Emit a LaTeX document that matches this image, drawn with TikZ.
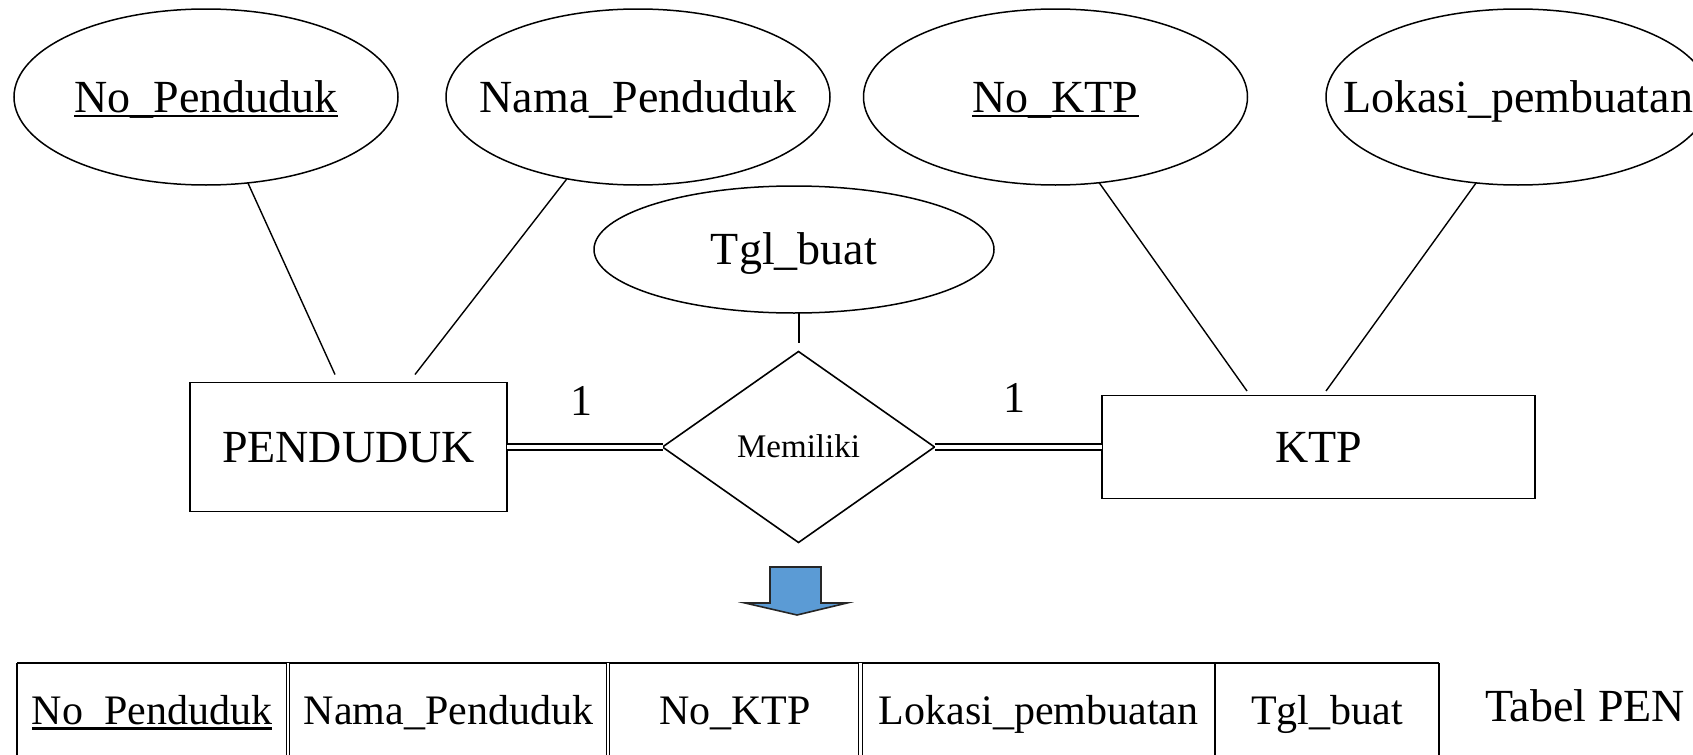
\documentclass[tikz,border=0pt]{standalone}
\usepackage{fontspec}
\setmainfont{Liberation Serif}
\usetikzlibrary{shapes.geometric}
% underline for key attributes, a little heavier than \underline
\newcommand\keyul[1]{\setbox0\hbox{#1}\rlap{\rule[-0.11em]{\wd0}{0.05em}}\box0}
\definecolor{arrowblue}{RGB}{91,155,213}
\begin{document}
\begin{tikzpicture}[x=0.5pt,y=-0.5pt,
  every node/.style={inner sep=0pt, outer sep=0pt, text depth=0pt},
  attrtext/.style={font=\fontsize{23}{26}\selectfont, text height=15.2pt},
  % the ellipse keeps its own size; its name is set as a centred label
  attrib/.style={ellipse, draw, line width=0.75pt, minimum width=192pt, minimum height=88pt,
                 label={[attrtext]center:#1}},
  entity/.style={rectangle, draw, line width=0.9pt,
                 font=\fontsize{23}{26}\selectfont, text height=15.2pt},
  relation/.style={diamond, draw, line width=0.8pt, minimum width=136pt, minimum height=95.5pt,
                 font=\fontsize{16.5}{19}\selectfont, text height=10.9pt},
  card/.style={font=\fontsize{22}{26}\selectfont, text height=14.8pt},
  cell/.style={font=\fontsize{21}{25}\selectfont, text height=13.9pt},
  link/.style={line width=0.7pt},
  dbl/.style={double, line width=0.85pt, double distance=2.3pt},
  tabline/.style={line width=0.7pt},
  tabdbl/.style={double, line width=0.5pt, double distance=1.15pt},
  blockarrow/.style={fill=arrowblue, draw=black!85, line width=0.8pt, line join=miter}]
\useasboundingbox (0,0) rectangle (1693,755);
\clip (0,0) rectangle (1693,755);

% attributes
\node[attrib={\keyul{No\_Penduduk}}] (npk)  at (206,97)    {};
\node[attrib={Nama\_Penduduk}]       (nmp)  at (638,97)    {};
\node[attrib={\keyul{No\_KTP}}]      (nktp) at (1055.5,97) {};
\node[attrib={Lokasi\_pembuatan}]    (lok)  at (1518,97)   {};
\node[attrib={Tgl\_buat}, minimum width=200pt, minimum height=63.5pt] (tgl) at (794,249.5) {};

% entities and relationship
\node[entity, minimum width=158.5pt, minimum height=64.5pt] (pend) at (348.5,447) {PENDUDUK};
\node[relation] (rel) at (798.5,447) {Memiliki};
\node[entity, minimum width=216.5pt, minimum height=51.5pt] (ktp) at (1318.5,447) {KTP};

% cardinalities
\node[card] (c1) at (581.5,401) {1};
\node[card] (c2) at (1014,398) {1};

% attribute links
\coordinate (pa1) at (335,374.5);
\coordinate (pa2) at (415,374.5);
\coordinate (ka1) at (1247,391);
\coordinate (ka2) at (1326,391);
\coordinate (tglend) at (799,343);
\draw[link] (npk.-64.8) -- (pa1);
\draw[link] (nmp.-131.7) -- (pa2);
\draw[link] (nktp.-63.4) -- (ka1);
\draw[link] (lok.-116.6) -- (ka2);
\draw[link] (tgl.south -| tglend) -- (tglend);

% total participation lines
\draw[dbl] (pend.east) -- (rel.west);
\draw[dbl] (rel.east) -- (ktp.west);

% downward block arrow
\draw[blockarrow] (770,567) -- (821,567) -- (821,603) -- (847,603) -- (797,615)
  -- (745,603) -- (770,603) -- cycle;

% resulting table
\draw[line width=1pt] (17,663) -- (1439,663);
\draw[tabline] (17,663) -- (17,770);
\draw[tabline] (1215,663) -- (1215,770);
\draw[tabline] (1439,663) -- (1439,770);
\draw[tabdbl] (287.7,663) -- (287.7,770);
\draw[tabdbl] (608.3,663) -- (608.3,770);
\draw[tabdbl] (860.5,663) -- (860.5,770);

\node[cell] (t1) at (152,711)    {\keyul{No\_Penduduk}};
\node[cell] (t2) at (448.5,711)  {Nama\_Penduduk};
\node[cell] (t3) at (735,711)    {No\_KTP};
\node[cell] (t4) at (1038.5,711) {Lokasi\_pembuatan};
\node[cell] (t5) at (1327,711)   {Tgl\_buat};
\node[font=\fontsize{23}{26}\selectfont, text height=15.2pt, anchor=west] (tname) at (1485,706) {Tabel PEN};
\end{tikzpicture}
\end{document}
